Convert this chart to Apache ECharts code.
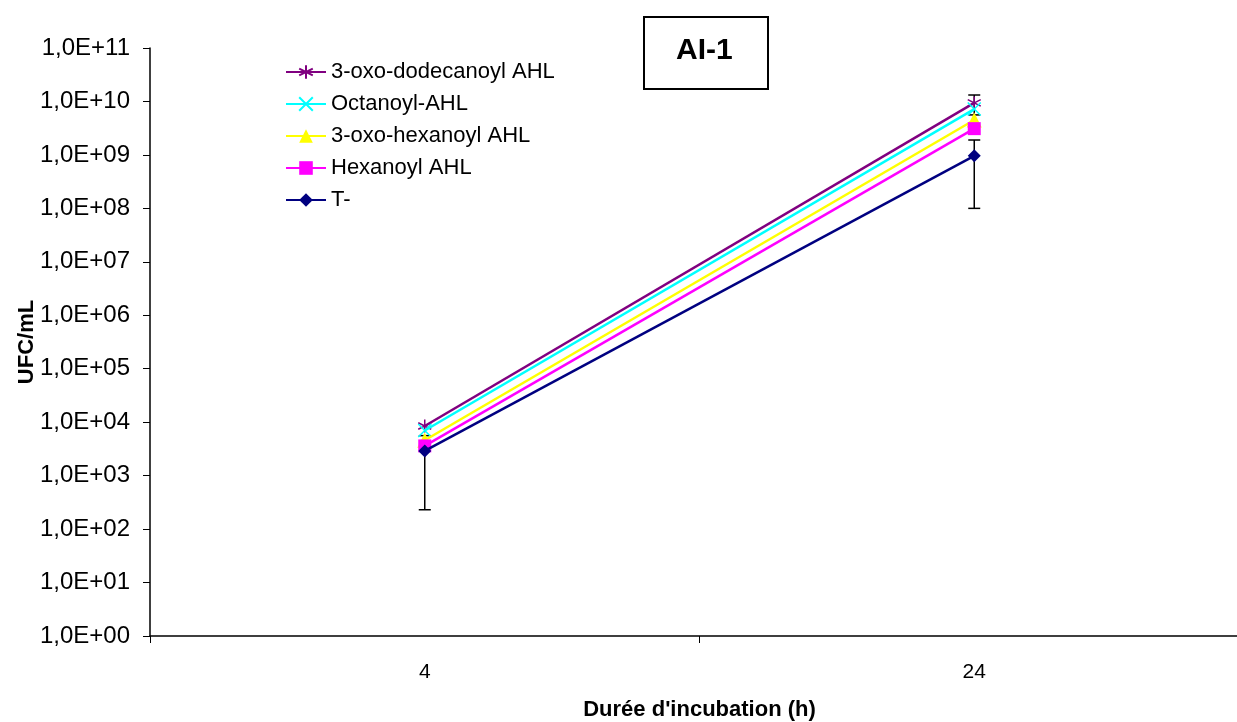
<!DOCTYPE html>
<html>
<head>
    <meta charset="utf-8">
    <title>AI-1</title>
    <style type="text/css">
        * {
            margin: 0;
            padding: 0;
        }

        #main {
            width: 1237px;
            height: 722px;
            background: #fff;
        }
    </style>
</head>
<body>
<div id="main"></div>
<script src="https://cdn.jsdelivr.net/npm/echarts@6/dist/echarts.min.js" type="text/javascript"></script>
<script type="text/javascript">
    // données
    var categories = ['4', '24'];
    var seriesNames = ['3-oxo-dodecanoyl AHL', 'Octanoyl-AHL', '3-oxo-hexanoyl AHL', 'Hexanoyl AHL', 'T-'];
    var dodecanoyl = [8.5e3, 9.4e9];
    var octanoyl = [7.0e3, 7.2e9];
    var oxoHexanoyl = [4.6e3, 4.5e9];
    var hexanoyl = [3.6e3, 3.1e9];
    var temoin = [2.9e3, 9.6e8];
    // barres d'erreur [x, bas, haut]
    var errT = [[0, 2.3e2, 5.6e3], [1, 1.0e8, 1.9e9]];
    var errDodec = [[1, 5.6e9, 1.32e10]];

    var font = 'Arial, "Liberation Sans", sans-serif';
    var colors = ['#800080', '#00FFFF', '#FFFF00', '#FF00FF', '#000080'];
    var symbols = [
        'path://M0,-10L0,10M-8.7,-5L8.7,5M-8.7,5L8.7,-5',
        'path://M-8,-8L8,8M-8,8L8,-8',
        'triangle',
        'rect',
        'diamond'
    ];
    var values = [dodecanoyl, octanoyl, oxoHexanoyl, hexanoyl, temoin];

    var myChart = echarts.init(document.getElementById('main'));

    function errorSeries(data) {
        return {
            type: 'custom',
            z: 1,
            silent: true,
            data: data,
            renderItem: function (params, api) {
                var x = api.value(0);
                var lo = api.coord([x, api.value(1)]);
                var hi = api.coord([x, api.value(2)]);
                var w = 6;
                var st = {stroke: '#000', lineWidth: 1.5};
                return {
                    type: 'group',
                    children: [
                        {type: 'line', shape: {x1: lo[0], y1: lo[1], x2: hi[0], y2: hi[1]}, style: st},
                        {type: 'line', shape: {x1: lo[0] - w, y1: lo[1], x2: lo[0] + w, y2: lo[1]}, style: st},
                        {type: 'line', shape: {x1: hi[0] - w, y1: hi[1], x2: hi[0] + w, y2: hi[1]}, style: st}
                    ]
                };
            }
        };
    }

    var series = [errorSeries(errT), errorSeries(errDodec)];
    for (var i = 0; i < seriesNames.length; i++) {
        var stroked = i < 2;
        series.push({
            name: seriesNames[i],
            type: 'line',
            z: 2 + i,
            data: values[i],
            symbol: symbols[i],
            symbolSize: i == 2 ? 15 : 13,
            lineStyle: {color: colors[i], width: 2.5},
            itemStyle: {
                color: colors[i],
                borderColor: colors[i],
                borderWidth: stroked ? 1.5 : 0
            }
        });
    }

    option = {
        animation: false,
        textStyle: {fontFamily: font},
        graphic: [
            {
                type: 'rect',
                left: 643,
                top: 16,
                shape: {width: 124, height: 72},
                style: {fill: '#fff', stroke: '#000', lineWidth: 2}
            },
            {
                type: 'text',
                left: 676,
                top: 36,
                style: {text: 'AI-1', font: 'bold 30px ' + font, fill: '#000'}
            }
        ],
        legend: {
            orient: 'vertical',
            left: 280,
            top: 56,
            itemGap: 10,
            itemWidth: 40,
            itemHeight: 17,
            data: seriesNames,
            textStyle: {fontSize: 22, color: '#000', fontFamily: font}
        },
        grid: {
            left: 150,
            right: -12,
            top: 48,
            bottom: 86,
            containLabel: false,
            outerBoundsMode: 'none'
        },
        xAxis: {
            type: 'category',
            data: categories,
            boundaryGap: true,
            name: "Durée d'incubation (h)",
            nameLocation: 'middle',
            nameGap: 63,
            nameMoveOverlap: false,
            nameTextStyle: {fontSize: 22, fontWeight: 'bold', color: '#000'},
            axisLine: {lineStyle: {color: '#000', width: 1.5}},
            axisTick: {show: true, alignWithLabel: false, length: 7, lineStyle: {color: '#000'}},
            axisLabel: {fontSize: 21, color: '#000', margin: 26}
        },
        yAxis: {
            type: 'log',
            logBase: 10,
            min: 1,
            max: 1e11,
            interval: 1,
            name: 'UFC/mL',
            nameLocation: 'middle',
            nameGap: 112,
            nameMoveOverlap: false,
            nameTextStyle: {fontSize: 22, fontWeight: 'bold', color: '#000'},
            splitLine: {show: false},
            axisLine: {show: true, lineStyle: {color: '#000', width: 1.5}},
            axisTick: {show: true, length: 7, lineStyle: {color: '#000'}},
            axisLabel: {
                fontSize: 24,
                color: '#000',
                margin: 20,
                hideOverlap: false,
                formatter: function (v) {
                    var e = Math.round(Math.log10(v));
                    return '1,0E+' + (e < 10 ? '0' : '') + e;
                }
            }
        },
        series: series
    };

    myChart.setOption(option);
</script>
</body>
</html>
